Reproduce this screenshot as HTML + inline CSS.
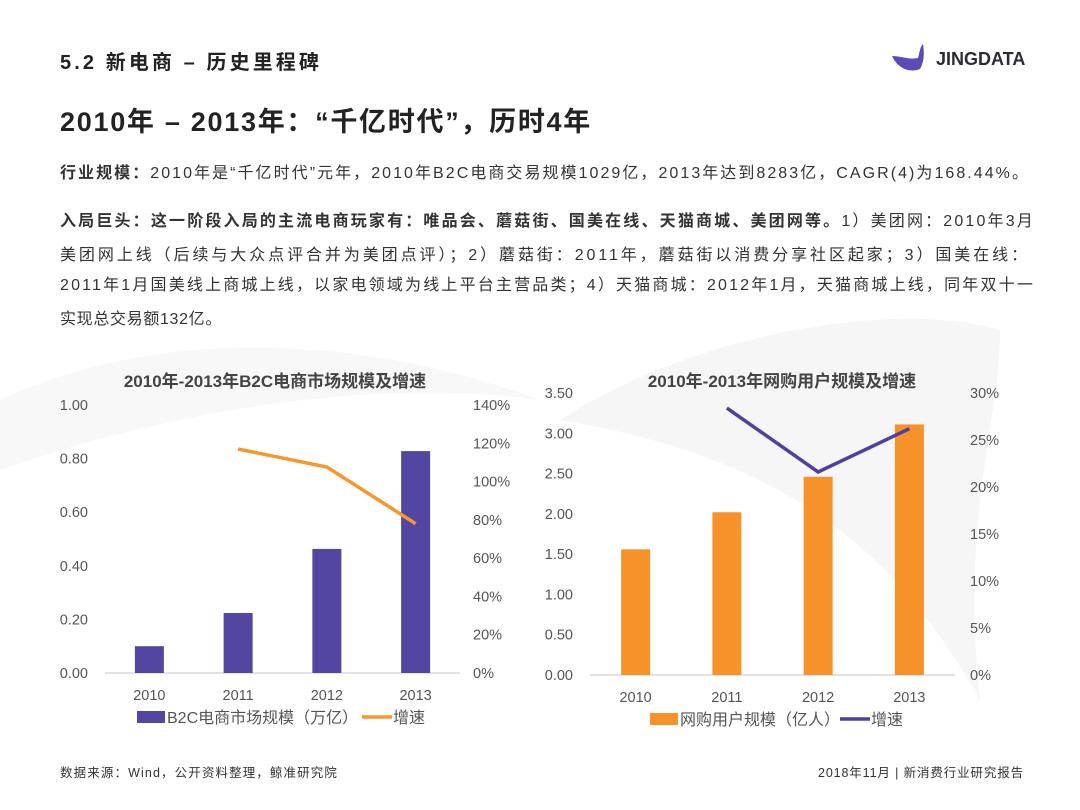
<!DOCTYPE html>
<html><head><meta charset="utf-8"><style>
body{margin:0;width:1080px;height:810px;background:#fff;overflow:hidden;position:relative;font-family:"Liberation Sans","Noto Sans CJK SC",sans-serif;color:#333}
.abs{position:absolute;white-space:nowrap}
.ln{position:absolute;left:60px;white-space:nowrap;font-size:16px;color:#333;line-height:20px}
b{font-weight:bold}
</style></head><body>
<svg class="abs" style="left:0;top:0" width="1080" height="810">
<path d="M560 420 C700 330 900 300 1000 330 C1000 420 960 520 980 700 C900 560 800 460 560 420Z" fill="#f6f6f6"/>
<path d="M0 400 C150 330 350 330 540 400 C400 380 200 400 0 470Z" fill="#f8f8f8"/>
</svg>
<div class="abs fit" data-w="262" style="left:60px;top:46px;font-size:20px;font-weight:bold;color:#222">5.2 新电商 – 历史里程碑</div>
<div class="abs" style="left:890px;top:42px;display:flex;align-items:center">
<svg width="40" height="34"><path d="M2 14 C10 14 20 18 28 16 C30 9 30 5 33 2 C34 9 35 18 30 27 C20 31 8 27 2 14Z" fill="#5b4bb7"/></svg>
<span style="font-size:18px;font-weight:bold;color:#2b2b3a;margin-left:6px">JINGDATA</span></div>
<div class="abs fit" data-w="532" style="left:60px;top:100px;font-size:27px;font-weight:bold;color:#222">2010年 – 2013年：“千亿时代”，历时4年</div>
<div class="ln fit" data-w="970" style="top:164px"><b>行业规模：</b>2010年是“千亿时代”元年，2010年B2C电商交易规模1029亿，2013年达到8283亿，CAGR(4)为168.44%。</div>
<div class="ln fit" data-w="975" style="top:212px"><b>入局巨头：这一阶段入局的主流电商玩家有：唯品会、蘑菇街、国美在线、天猫商城、美团网等。</b>1）美团网：2010年3月</div>
<div class="ln fit" data-w="970" style="top:246px">美团网上线（后续与大众点评合并为美团点评）；2）蘑菇街：2011年，蘑菇街以消费分享社区起家；3）国美在线：</div>
<div class="ln fit" data-w="975" style="top:276px">2011年1月国美线上商城上线，以家电领域为线上平台主营品类；4）天猫商城：2012年1月，天猫商城上线，同年双十一</div>
<div class="ln fit" data-w="162" style="top:310px">实现总交易额132亿。</div>
<svg id="c" class="abs" style="left:0;top:0" width="1080" height="810"></svg>
<div class="abs fit" data-w="278" style="left:60px;top:762px;font-size:12.5px;color:#333">数据来源：Wind，公开资料整理，鲸准研究院</div>
<div class="abs fit" data-w="206" style="left:818px;top:762px;font-size:12.5px;color:#333">2018年11月 | 新消费行业研究报告</div>
<script>
document.querySelectorAll('.fit').forEach(e=>{const w=+e.dataset.w;const n=e.textContent.length;const cur=e.getBoundingClientRect().width;if(n>1)e.style.letterSpacing=((w-cur)/n)+'px';});
const years=["2010","2011","2012","2013"];
const b2cScale=[0.10,0.224,0.463,0.828];
const b2cGrowth=[null,117,107.6,78];
const b2cLeftTicks=["0.00","0.20","0.40","0.60","0.80","1.00"];
const b2cRightTicks=["0%","20%","40%","60%","80%","100%","120%","140%"];
const userScale=[1.56,2.02,2.46,3.11];
const userGrowth=[null,28.4,21.6,26.2];
const userLeftTicks=["0.00","0.50","1.00","1.50","2.00","2.50","3.00","3.50"];
const userRightTicks=["0%","5%","10%","15%","20%","25%","30%"];
const svg=document.getElementById('c');
const NS='http://www.w3.org/2000/svg';
function mk(t,a,txt){const e=document.createElementNS(NS,t);for(const k in a)e.setAttribute(k,a[k]);if(txt!=null)e.textContent=txt;svg.appendChild(e);return e;}
function chart(o){
 const yL=v=>o.y0-(v/o.lMax)*(o.y0-o.yTop);
 const yR=v=>o.y0-(v/o.rMax)*(o.y0-o.yTop);
 const step=(o.x1-o.x0)/years.length;
 const xC=i=>o.x0+step*(i+0.5);
 let t=mk('text',{x:o.titleX,y:387,'text-anchor':'middle','font-size':17,'font-weight':'bold',fill:'#444'},o.title);
 
 o.lTicks.forEach(s=>{const v=parseFloat(s);const e=mk('text',{x:o.lx,y:yL(v)+5,'text-anchor':'end','font-size':14.5,fill:'#555'},s);
  });
 o.rTicks.forEach(s=>{const v=parseFloat(s);const e=mk('text',{x:o.rx,y:yR(v)+5,'font-size':14.5,fill:'#555'},s);
  });
 const ax=mk('line',{x1:o.x0,x2:o.x1,y1:o.y0,y2:o.y0,stroke:'#d9d9d9','stroke-width':1.5});
 
 o.bars.forEach((v,i)=>{const r=mk('rect',{x:xC(i)-14.5,y:yL(v),width:29,height:o.y0-yL(v),fill:o.barCol});
  
  const l=mk('text',{x:xC(i),y:o.y0+27,'text-anchor':'middle','font-size':14.5,fill:'#555'},years[i]);
  });
 const pts=o.line.map((v,i)=>v==null?null:[xC(i),yR(v)]).filter(p=>p);
 const pl=mk('polyline',{points:pts.map(p=>p.join(',')).join(' '),fill:'none',stroke:o.lineCol,'stroke-width':3.5});
 
 const ly=o.y0+44;
 const sq=mk('rect',{x:o.legX,y:ly-6,width:28,height:12,fill:o.barCol});
 
 const st=mk('text',{x:o.legX+30,y:ly+6,'font-size':16,fill:'#555'},o.barLabel);
 
 const ll=mk('line',{x1:o.legX2,x2:o.legX2+30,y1:ly,y2:ly,stroke:o.lineCol,'stroke-width':3.5});
 
 const lt=mk('text',{x:o.legX2+31,y:ly+6,'font-size':16,fill:'#555'},'增速');
 
}
chart({id:'b2c',title:'2010年-2013年B2C电商市场规模及增速',titleX:275,x0:105,x1:460,y0:673,yTop:405,lMax:1,rMax:140,
 lTicks:b2cLeftTicks,rTicks:b2cRightTicks,lx:88,rx:473,bars:b2cScale,line:b2cGrowth,barCol:'#5346a3',lineCol:'#f7962a',
 legX:137,legX2:362,barLabel:'B2C电商市场规模（万亿）'});
chart({id:'users',title:'2010年-2013年网购用户规模及增速',titleX:782,x0:590,x1:955,y0:675,yTop:393,lMax:3.5,rMax:30,
 lTicks:userLeftTicks,rTicks:userRightTicks,lx:573,rx:970,bars:userScale,line:userGrowth,barCol:'#f7922a',lineCol:'#4f3fa0',
 legX:650,legX2:840,barLabel:'网购用户规模（亿人）'});
</script>
</body></html>
